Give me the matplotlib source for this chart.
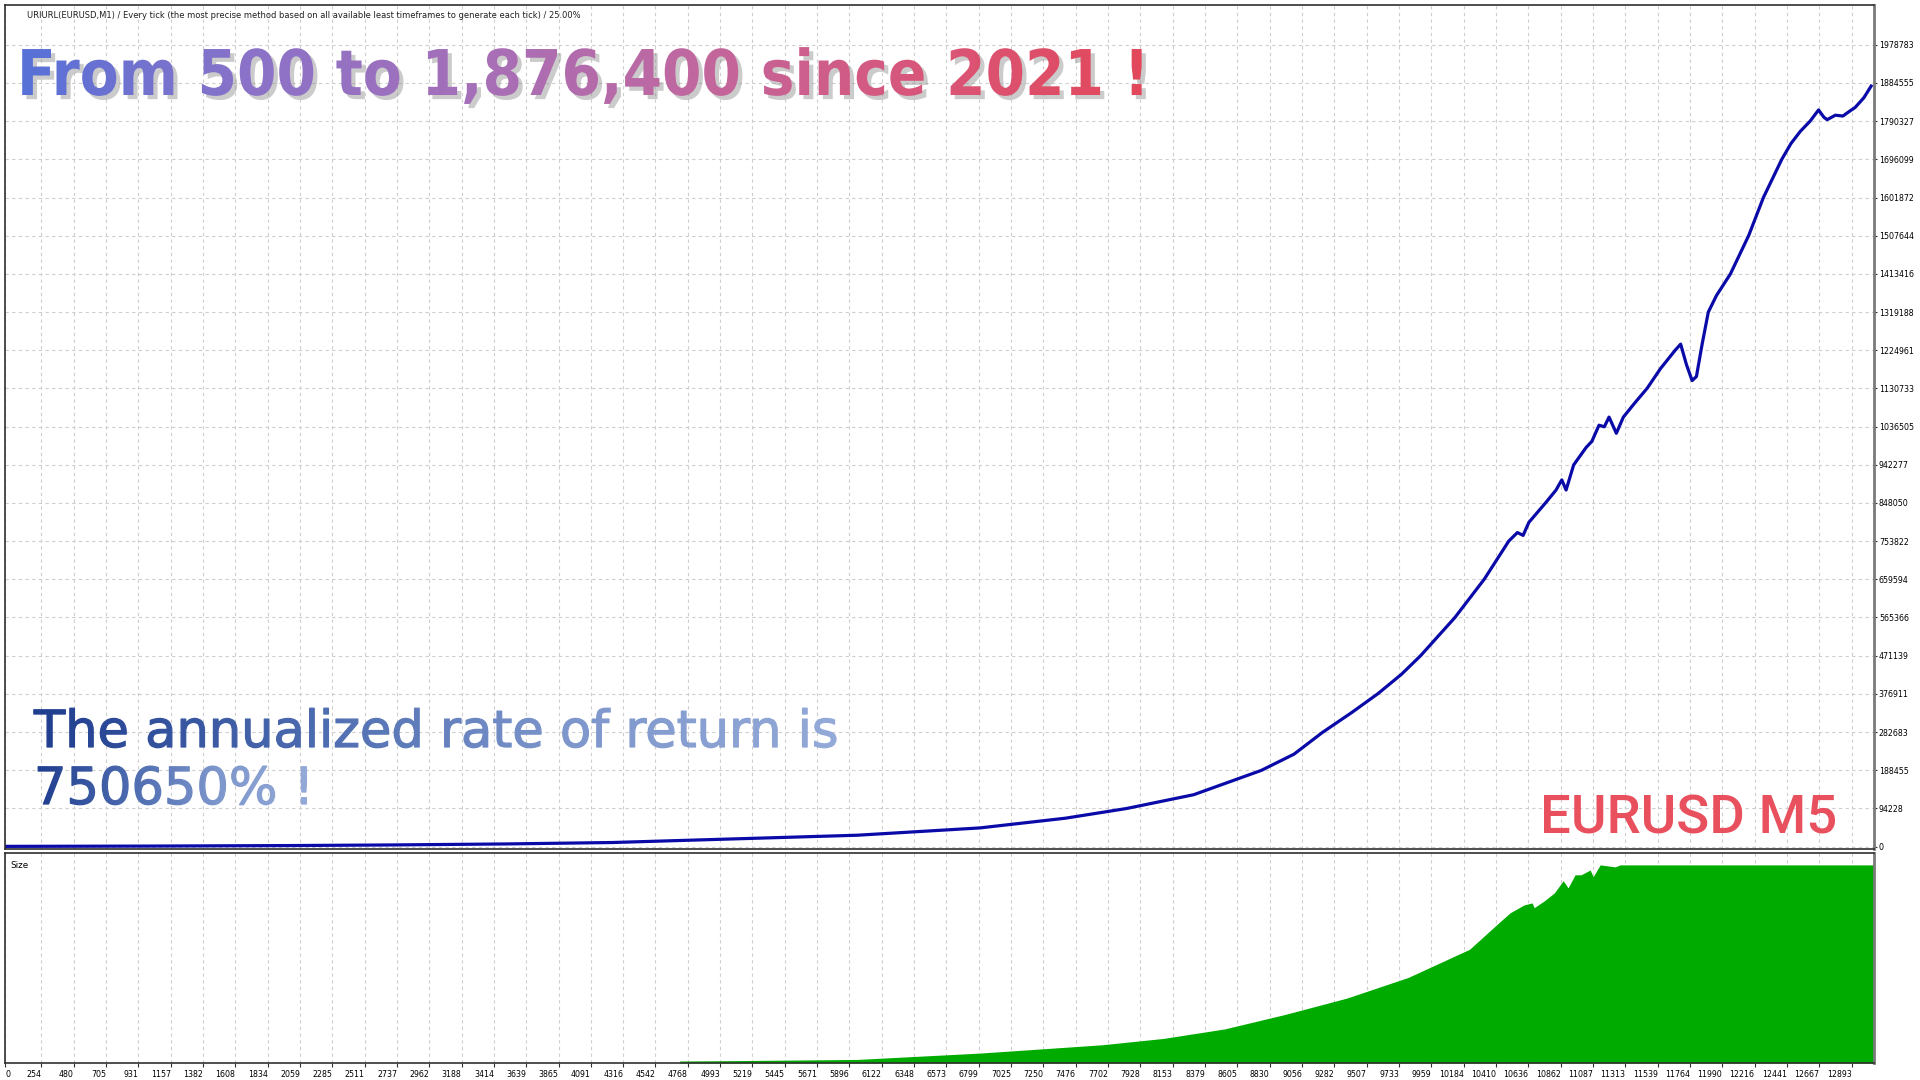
import numpy as np
import matplotlib
matplotlib.use("Agg")
import matplotlib.pyplot as plt
import matplotlib.patheffects as pe
from matplotlib.colors import LinearSegmentedColormap
from matplotlib.transforms import Bbox
from matplotlib import font_manager

# ── Data ───────────────────────────────────────────────────────────────────────
trade_no = [0, 1000, 2000, 2700, 3500, 4240, 5096, 5951, 6806, 7404, 7832, 8300,
            8772, 9000, 9200, 9400, 9585, 9750, 9884, 10123, 10329, 10500, 10560,
            10600, 10640, 10756, 10830, 10870, 10900, 10953, 11040, 11080, 11130,
            11167, 11200, 11251, 11300, 11380, 11466, 11560, 11662, 11700, 11740,
            11780, 11810, 11850, 11893, 11950, 12047, 12175, 12278, 12406, 12470,
            12535, 12603, 12663, 12700, 12723, 12780, 12833, 12880, 12918, 12979,
            13030]
balance = [500, 1200, 2500, 4000, 6500, 10000, 19000, 28000, 46000, 70000, 94000,
           128000, 188000, 228000, 282000, 330000, 377000, 425000, 471000, 565000,
           660000, 754000, 775000, 768000, 800000, 848000, 880000, 905000, 880000,
           942000, 985000, 1000000, 1040000, 1036000, 1060000, 1020000, 1060000,
           1095000, 1131000, 1180000, 1225000, 1240000, 1190000, 1150000, 1160000,
           1240000, 1319000, 1360000, 1413000, 1508000, 1602000, 1696000, 1735000,
           1765000, 1790000, 1818000, 1800000, 1794000, 1805000, 1803000, 1815000,
           1824000, 1848000, 1876900]

size_no = [4711, 5096, 5951, 6806, 7661, 8088, 8516, 8943, 9371, 9798, 10226,
           10440, 10509, 10607, 10663, 10677, 10747, 10817, 10880, 10914, 10963,
           11005, 11068, 11089, 11138, 11243, 11278, 13080]
size_lots = [0.5, 0.6, 0.9, 2.5, 4.6, 6.2, 8.6, 12.3, 16.4, 21.6, 28.7, 35.7,
             37.9, 39.9, 40.4, 39.2, 40.9, 42.9, 46.0, 44.2, 47.5, 47.5, 48.7,
             47.0, 50.0, 49.5, 50.0, 50.0]

y_ticks = [0, 94228, 188455, 282683, 376911, 471139, 565366, 659594, 753822,
           848050, 942277, 1036505, 1130733, 1224961, 1319188, 1413416, 1507644,
           1601872, 1696099, 1790327, 1884555, 1978783]

x_tick_labels = ["0", "254", "480", "705", "931", "1157", "1382", "1608", "1834",
                 "2059", "2285", "2511", "2737", "2962", "3188", "3414", "3639",
                 "3865", "4091", "4316", "4542", "4768", "4993", "5219", "5445",
                 "5671", "5896", "6122", "6348", "6573", "6799", "7025", "7250",
                 "7476", "7702", "7928", "8153", "8379", "8605", "8830", "9056",
                 "9282", "9507", "9733", "9959", "10184", "10410", "10636", "10862",
                 "11087", "11313", "11539", "11764", "11990", "12216", "12441",
                 "12667", "12893"]

header = ("URIURL(EURUSD,M1) / Every tick (the most precise method based on all "
          "available least timeframes to generate each tick) / 25.00%")
title = "From 500 to 1,876,400 since 2021 !"
rate_line1 = "The annualized rate of return is"
rate_line2 = "750650% !"
pair = "EURUSD M5"

# ── Style ──────────────────────────────────────────────────────────────────────
BLUE = "#0a0aa8"
GREEN = "#00ab00"
GRID = "#cecece"
FRAME = "#303030"
W, H = 1920, 1080
TICK_FS = 5.7


class GradientFill(pe.AbstractPathEffect):
    """Fill a text path with a left-to-right colour gradient (vertical strips)."""

    def __init__(self, colors, n=180, stroke=0.0):
        super().__init__()
        self._cmap = LinearSegmentedColormap.from_list("grad", colors)
        self._n = n
        self._stroke = stroke

    def draw_path(self, renderer, gc, tpath, affine, rgbFace=None):
        ext = tpath.get_extents(affine)
        edges = np.linspace(ext.x0 - 2, ext.x1 + 2, self._n + 1)
        for i in range(self._n):
            c = self._cmap(i / (self._n - 1))[:3]
            gc0 = renderer.new_gc()
            gc0.copy_properties(gc)
            gc0.set_clip_rectangle(Bbox([[edges[i], ext.y0 - 10],
                                         [edges[i + 1], ext.y1 + 10]]))
            gc0.set_foreground(c)
            gc0.set_linewidth(self._stroke)
            renderer.draw_path(gc0, tpath, affine, c)
            gc0.restore()


def fx(px):
    return px / W


def fy(py):
    return 1 - py / H


def has_face(fragment):
    return any(fragment in f.fname for f in font_manager.fontManager.ttflist)


fig = plt.figure(figsize=(W / 100, H / 100), dpi=100, facecolor="white")

ax = fig.add_axes([fx(5), fy(849), fx(1869), (849 - 5) / H])
ax2 = fig.add_axes([fx(5), fy(1063), fx(1869), (1063 - 853) / H])

# ── Balance panel ──────────────────────────────────────────────────────────────
ax.plot(trade_no, balance, color=BLUE, linewidth=2.3, solid_joinstyle="round")
ax.set_xlim(0, 13050)
ax.set_ylim(-6000, 2077000)
ax.yaxis.tick_right()
ax.set_yticks(y_ticks)
ax.set_yticklabels([str(v) for v in y_ticks])
ax.set_xticks([int(s) for s in x_tick_labels])
ax.set_xticklabels([])
ax.tick_params(axis="x", length=0)
ax.tick_params(axis="y", labelsize=TICK_FS, length=2, width=0.8, color=FRAME, pad=1.5)
ax.grid(True, color=GRID, linestyle=(0, (3, 3)), linewidth=0.8)

# ── Size panel ─────────────────────────────────────────────────────────────────
ax2.fill_between(size_no, size_lots, 0, color=GREEN, linewidth=0)
ax2.set_xlim(0, 13050)
ax2.set_ylim(0, 53)
ax2.set_yticks([])
ax2.set_xticks([int(s) for s in x_tick_labels])
ax2.set_xticklabels(x_tick_labels)
ax2.tick_params(axis="x", labelsize=TICK_FS, length=3, width=0.8, color=FRAME, pad=2)
for i, lbl in enumerate(ax2.get_xticklabels()):
    lbl.set_ha("left" if i == 0 else "right")
ax2.grid(True, axis="x", color=GRID, linestyle=(0, (3, 3)), linewidth=0.8)
ax2.text(0.003, 0.96, "Size", transform=ax2.transAxes, fontsize=6.3,
         ha="left", va="top", color="black")

for a in (ax, ax2):
    a.set_axisbelow(True)
    for sp in a.spines.values():
        sp.set_edgecolor(FRAME)
        sp.set_linewidth(1.2)
    a.spines["right"].set_edgecolor("#7a7a7a")
    a.spines["right"].set_linewidth(2)

# ── Texts ──────────────────────────────────────────────────────────────────────
renderer = fig.canvas.get_renderer()


def fit_width(t, target_px):
    w = t.get_window_extent(renderer).width
    t.set_fontsize(t.get_fontsize() * target_px / w)


t_head = fig.text(fx(27), fy(15), header, fontsize=6, ha="left", va="center",
                  color="#202020")
fit_width(t_head, 557)

stretch = "condensed" if has_face("DejaVuSansCondensed-Bold") else "normal"
t_title = fig.text(fx(17), fy(95), title, fontsize=40, fontweight="bold",
                   fontstretch=stretch, family="DejaVu Sans",
                   ha="left", va="baseline")
fit_width(t_title, 1132)
t_title.set_path_effects([
    pe.SimplePatchShadow(offset=(3, -3), shadow_rgbFace=(0.55, 0.55, 0.55), alpha=0.45),
    GradientFill(["#5771d6", "#8a72c8", "#a56fb8", "#c0679f", "#d8567a", "#e2485a"]),
])

rate_cols = ["#1f3d8e", "#4a69ae", "#7d96cb", "#93a9d7"]
t_r1 = fig.text(fx(34), fy(747), rate_line1, fontsize=36, family="DejaVu Sans",
                ha="left", va="baseline")
fit_width(t_r1, 805)
t_r1.set_path_effects([GradientFill(rate_cols, stroke=0.9)])
t_r2 = fig.text(fx(34), fy(804), rate_line2, fontsize=t_r1.get_fontsize(),
                family="DejaVu Sans", ha="left", va="baseline")
t_r2.set_path_effects([GradientFill(rate_cols, stroke=0.9)])

t_pair = fig.text(fx(1540), fy(834), pair, fontsize=42, family=["Roboto", "DejaVu Sans"],
                  fontweight="medium", color="#e9505e", ha="left", va="baseline")
fit_width(t_pair, 297)

fig.savefig("out.png", dpi=100, facecolor="white")
